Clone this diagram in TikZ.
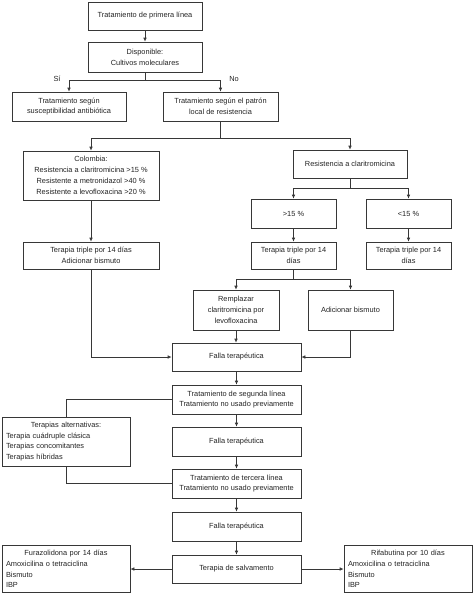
\documentclass[tikz,border=0pt]{standalone}
\usepackage{fontspec}
\setmainfont{Liberation Sans}
\usetikzlibrary{arrows.meta}
\usepackage{xcolor}
\definecolor{lineGray}{RGB}{55,55,55}
\definecolor{textGray}{RGB}{35,35,35}

\begin{document}
\begin{tikzpicture}[x=1pt,y=-1pt,
        box/.style={draw=lineGray,line width=0.7pt,inner sep=0pt,align=center,text=textGray,
            font=\fontsize{7.4}{10.8}\selectfont},
        listbox/.style={box,align=left,text width=120pt,minimum width=128pt},
        link/.style={draw=lineGray,line width=0.7pt},
        arr/.style={link,-{Latex[length=4pt,width=3.6pt]}}]
        \useasboundingbox (0,0) rectangle (474,595);
        % first line
        \node[box,minimum width=114pt,minimum height=28pt] (primera) at (145,16) {Tratamiento de primera línea};
        \node[box,minimum width=114pt,minimum height=30pt] (disponible) at (145,57) {Disponible:\\Cultivos moleculares};
        \node[box,minimum width=114pt,minimum height=29pt] (suscept) at (69,106.5) {Tratamiento según\\susceptibilidad antibiótica};
        \node[box,minimum width=115pt,minimum height=29pt] (patron) at (220.5,106.5) {Tratamiento según el patrón\\local de resistencia};
        \node[text=textGray,font=\fontsize{7.4}{10.8}\selectfont] (si) at (57,79) {Sí};
        \node[text=textGray,font=\fontsize{7.4}{10.8}\selectfont] (no) at (234,79) {No};
        % resistance
        \node[box,minimum width=136pt,minimum height=49pt] (colombia) at (91,175.5) {Colombia:\\Resistencia a claritromicina >15 \%\\Resistente a metronidazol >40 \%\\Resistente a levofloxacina >20 \%};
        \node[box,minimum width=114pt,minimum height=28pt] (resclari) at (350,164) {Resistencia a claritromicina};
        \node[box,minimum width=85pt,minimum height=29pt] (mayor) at (293.5,213.5) {>15 \%};
        \node[box,minimum width=85pt,minimum height=29pt] (menor) at (408.5,213.5) {<15 \%};
        \node[box,minimum width=136pt,minimum height=27pt] (tripleA) at (91,255.5) {Terapia triple por 14 días\\Adicionar bismuto};
        \node[box,minimum width=85pt,minimum height=27pt] (tripleB) at (293.5,255.5) {Terapia triple por 14\\días};
        \node[box,minimum width=85pt,minimum height=27pt] (tripleC) at (408.5,255.5) {Terapia triple por 14\\días};
        \node[box,minimum width=86pt,minimum height=40pt] (remplazar) at (236,310) {Remplazar\\claritromicina por\\levofloxacina};
        \node[box,minimum width=85pt,minimum height=40pt] (bismuto) at (350.5,310) {Adicionar bismuto};
        % second and third line
        \node[box,minimum width=129pt,minimum height=28pt] (fallaA) at (236.5,357) {Falla terapéutica};
        \node[box,minimum width=129pt,minimum height=29pt] (segunda) at (236.5,399.5) {Tratamiento de segunda línea\\Tratamiento no usado previamente};
        \node[listbox,minimum height=49pt] (alternativas) at (66,441.5) {\hspace*{\fill}Terapias alternativas:\hspace*{\fill}\mbox{}\\Terapia cuádruple clásica\\Terapias concomitantes\\Terapias híbridas};
        \node[box,minimum width=129pt,minimum height=29pt] (fallaB) at (236.5,441.5) {Falla terapéutica};
        \node[box,minimum width=129pt,minimum height=29pt] (tercera) at (236.5,483.5) {Tratamiento de tercera línea\\Tratamiento no usado previamente};
        \node[box,minimum width=129pt,minimum height=29pt] (fallaC) at (236.5,526.5) {Falla terapéutica};
        % salvage
        \node[box,minimum width=129pt,minimum height=28pt] (salvamento) at (236.5,569) {Terapia de salvamento};
        \node[listbox,minimum height=47pt] (furazolidona) at (66,569) {\hspace*{\fill}Furazolidona por 14 días\hspace*{\fill}\mbox{}\\Amoxicilina o tetraciclina\\Bismuto\\IBP};
        \node[listbox,minimum height=47pt] (rifabutina) at (408,569) {\hspace*{\fill}Rifabutina por 10 días\hspace*{\fill}\mbox{}\\Amoxicilina o tetraciclina\\Bismuto\\IBP};

        % arrows
        \draw[arr] (primera) -- (disponible);
        \draw[arr] (disponible.south) -- ++(0,8) -| (suscept.north);
        \draw[arr] (disponible.south) -- ++(0,8) -| (patron.north);
        \draw[arr] (patron.south) -- ++(0,17) -| (colombia.north);
        \draw[arr] (patron.south) -- ++(0,17) -| (resclari.north);
        \draw[arr] (resclari.south) -- ++(0,10) -| (mayor.north);
        \draw[arr] (resclari.south) -- ++(0,10) -| (menor.north);
        \draw[arr] (colombia) -- (tripleA);
        \draw[arr] (mayor) -- (tripleB);
        \draw[arr] (menor) -- (tripleC);
        \draw[arr] (tripleB.south) -- ++(0,10) -| (remplazar.north);
        \draw[arr] (tripleB.south) -- ++(0,10) -| (bismuto.north);
        \draw[arr] (tripleA.south) |- (fallaA.west);
        \draw[arr] (remplazar.south) -- (remplazar.south |- fallaA.north);
        \draw[arr] (bismuto.south) |- (fallaA.east);
        \draw[arr] (fallaA) -- (segunda);
        \draw[arr] (segunda) -- (fallaB);
        \draw[arr] (fallaB) -- (tercera);
        \draw[arr] (tercera) -- (fallaC);
        \draw[arr] (fallaC) -- (salvamento);
        \draw[link] (segunda.west) -| (alternativas.north);
        \draw[link] (alternativas.south) |- (tercera.west);
        \draw[arr] (salvamento) -- (furazolidona);
        \draw[arr] (salvamento) -- (rifabutina);
\end{tikzpicture}
\end{document}
